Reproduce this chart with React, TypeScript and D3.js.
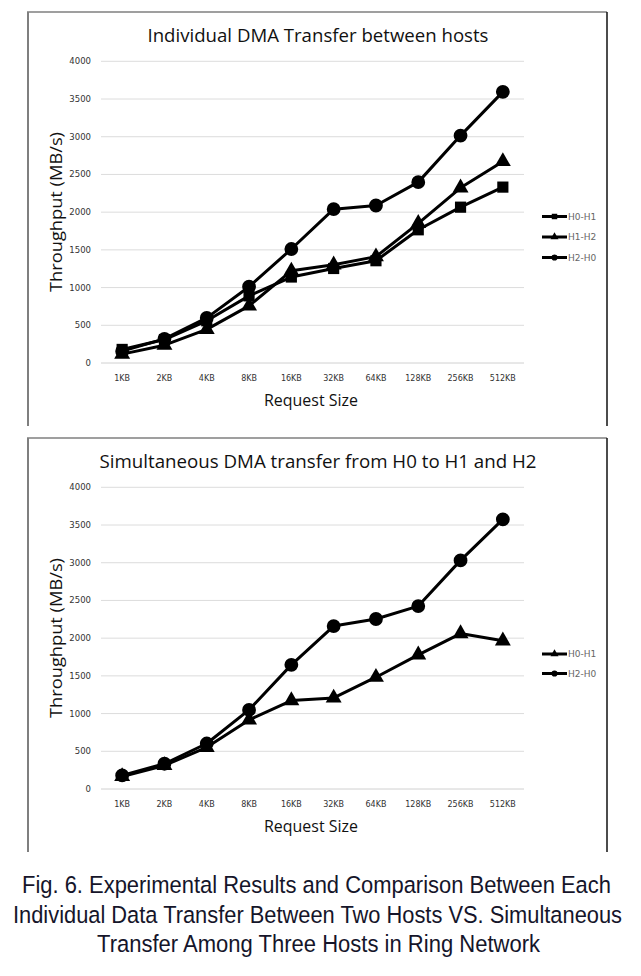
import React from "react";
import * as d3 from "d3";

const categories = ["1KB", "2KB", "4KB", "8KB", "16KB", "32KB", "64KB", "128KB", "256KB", "512KB"];
const yTicks = [0, 500, 1000, 1500, 2000, 2500, 3000, 3500, 4000];

// Panel 1: Individual DMA transfer between hosts
const indivH0H1 = [180, 311, 560, 890, 1140, 1253, 1356, 1766, 2066, 2332];
const indivH1H2 = [118, 236, 446, 757, 1222, 1302, 1410, 1852, 2323, 2672];
const indivH2H0 = [157, 320, 598, 1012, 1511, 2040, 2088, 2398, 3015, 3595];

// Panel 2: Simultaneous DMA transfer from H0 to H1 and H2
const simH0H1 = [166, 312, 553, 916, 1173, 1208, 1482, 1779, 2061, 1965];
const simH2H0 = [180, 335, 603, 1049, 1646, 2160, 2254, 2425, 3031, 3575];

const panel1Title = "Individual DMA Transfer between hosts";
const panel2Title = "Simultaneous DMA transfer from H0 to H1 and H2";
const captionLines = [
  "Fig. 6. Experimental Results and Comparison Between Each",
  "Individual Data Transfer Between Two Hosts VS. Simultaneous",
  "Transfer Among Three Hosts in Ring Network",
];

type Marker = "square" | "triangle" | "circle";
interface Series { name: string; values: number[]; marker: Marker; }

const panel1Series: Series[] = [
  { name: "H0-H1", values: indivH0H1, marker: "square" },
  { name: "H1-H2", values: indivH1H2, marker: "triangle" },
  { name: "H2-H0", values: indivH2H0, marker: "circle" },
];
const panel2Series: Series[] = [
  { name: "H0-H1", values: simH0H1, marker: "triangle" },
  { name: "H2-H0", values: simH2H0, marker: "circle" },
];

const symbolType: Record<Marker, d3.SymbolType> = {
  square: d3.symbolSquare,
  triangle: d3.symbolTriangle,
  circle: d3.symbolCircle,
};
const markerSize: Record<Marker, number> = { square: 125, triangle: 110, circle: 150 };
const legendMarkerSize: Record<Marker, number> = { square: 30, triangle: 28, circle: 30 };

const PLOT_L = 101;
const PLOT_R = 524;
const Y0 = 363;
const Y4000 = 61.3;

function Panel({ offsetY, title, series, legendY0, legendStep, titleLen }: {
  offsetY: number; title: string; series: Series[]; legendY0: number; legendStep: number; titleLen: number;
}) {
  const x = d3.scaleBand<string>().domain(categories).range([PLOT_L, PLOT_R]);
  const y = d3.scaleLinear().domain([0, 4000]).range([Y0, Y4000]);
  const cx = (c: string) => (x(c) as number) + x.bandwidth() / 2;
  const line = d3.line<number>().x((_, i) => cx(categories[i])).y((v) => y(v));
  return (
    <g transform={`translate(0,${offsetY})`}>
      {/* frame */}
      <line x1={28} y1={12} x2={28} y2={426} stroke="#7f7f7f" strokeWidth={2} />
      <line x1={27} y1={12} x2={607} y2={12} stroke="#7f7f7f" strokeWidth={1.5} />
      <line x1={607} y1={12} x2={607} y2={426} stroke="#111" strokeWidth={1.5} />
      <text x={318} y={41.5} textAnchor="middle" fontFamily="Open Sans, sans-serif" fontSize={19} fill="#111"
        textLength={titleLen} lengthAdjust="spacingAndGlyphs">{title}</text>
      {/* grid */}
      {yTicks.map((t) => (
        <g key={t}>
          <line x1={PLOT_L} x2={PLOT_R} y1={y(t)} y2={y(t)} stroke={t === 0 ? "#d0d0d0" : "#dcdcdc"} strokeWidth={1} />
          <text x={91} y={y(t)} dy="0.35em" textAnchor="end" fontFamily="DejaVu Sans, sans-serif" fontSize={8.5} fill="#333">{t}</text>
        </g>
      ))}
      {categories.map((c) => (
        <text key={c} x={cx(c)} y={381} textAnchor="middle" fontFamily="DejaVu Sans, sans-serif" fontSize={8} fill="#333">{c}</text>
      ))}
      <text x={311} y={406} textAnchor="middle" fontFamily="Open Sans, sans-serif" fontSize={15.5} fill="#111"
        textLength={94} lengthAdjust="spacingAndGlyphs">Request Size</text>
      <text transform={`translate(62,212) rotate(-90)`} textAnchor="middle" fontFamily="Open Sans, sans-serif" fontSize={16} fill="#111"
        textLength={160} lengthAdjust="spacingAndGlyphs">Throughput (MB/s)</text>
      {/* series */}
      {series.map((s) => (
        <g key={s.name}>
          <path d={line(s.values) as string} fill="none" stroke="#000" strokeWidth={3} strokeLinejoin="round" />
          {s.values.map((v, i) => (
            <path key={i} transform={`translate(${cx(categories[i])},${y(v)})`}
              d={d3.symbol().type(symbolType[s.marker]).size(markerSize[s.marker])() as string} fill="#000" />
          ))}
        </g>
      ))}
      {/* legend */}
      {series.map((s, i) => {
        const ly = legendY0 + i * legendStep;
        return (
          <g key={s.name}>
            <line x1={542} x2={567} y1={ly} y2={ly} stroke="#000" strokeWidth={3} />
            <path transform={`translate(554.5,${ly})`} d={d3.symbol().type(symbolType[s.marker]).size(legendMarkerSize[s.marker])() as string} fill="#000" />
            <text x={568} y={ly} dy="0.35em" fontFamily="DejaVu Sans, sans-serif" fontSize={9} fill="#666">{s.name}</text>
          </g>
        );
      })}
    </g>
  );
}

export default function App() {
  const capX = [[22, 611], [13, 622], [97, 540]];
  const capY = [893, 923, 952];
  return (
    <svg width={641} height={976} style={{ position: "absolute", left: 0, top: 0, background: "#fff" }}>
      <rect width={641} height={976} fill="#fff" />
      <Panel offsetY={0} title={panel1Title} series={panel1Series} legendY0={216.5} legendStep={20.5} titleLen={341} />
      <Panel offsetY={426} title={panel2Title} series={panel2Series} legendY0={228} legendStep={19.5} titleLen={437} />
      {captionLines.map((t, i) => (
        <text key={i} transform={`translate(${capX[i][0]},${capY[i]}) scale(1,1.13)`} fontFamily="Liberation Sans, sans-serif" fontSize={20.5} fill="#15152a"
          textLength={capX[i][1] - capX[i][0]} lengthAdjust="spacingAndGlyphs">{t}</text>
      ))}
    </svg>
  );
}
